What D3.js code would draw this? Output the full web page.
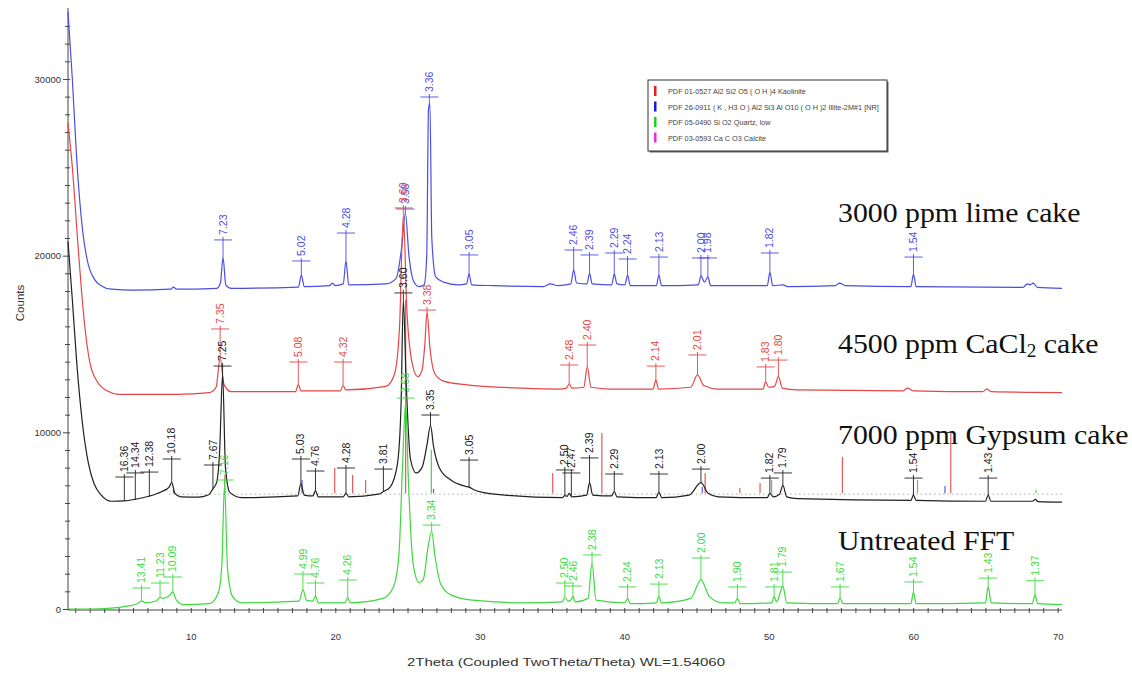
<!DOCTYPE html>
<html><head><meta charset="utf-8">
<script src="https://cdn.jsdelivr.net/npm/d3@7"></script>
<style>body{margin:0;background:#fff}svg{display:block}</style>
</head><body><svg id="chart" width="1132" height="677"></svg>
<script>
// ---------------- DATA ----------------
// 2Theta (deg), Counts
const limeCake = [[1.5,33800],[1.8,30000],[2.1,25500],[2.5,21500],[2.9,19500],[3.3,18700],[3.8,18300],[4.5,18100],[6,18050],[8.6,18100],[8.8,18220],[9.0,18100],[11.8,18150],[12.05,18450],[12.23,19900],[12.42,18350],[12.8,18150],[17.45,18220],[17.65,18900],[17.85,18250],[19.6,18300],[19.8,18450],[20.0,18300],[20.55,18400],[20.74,19700],[20.93,18350],[23.5,18400],[24.2,18700],[24.6,20500],[24.85,22400],[25.1,20000],[25.4,18600],[25.8,18250],[26.15,18350],[26.33,20000],[26.45,28300],[26.55,28600],[26.68,21000],[26.95,18800],[27.5,18500],[28.5,18350],[29.08,18400],[29.26,18950],[29.44,18350],[31,18300],[34.4,18250],[34.9,18400],[35.4,18300],[36.3,18400],[36.5,19200],[36.7,18450],[37.42,18400],[37.6,19000],[37.78,18400],[39.13,18350],[39.31,18950],[39.5,18400],[40.05,18350],[40.23,18900],[40.42,18300],[42.22,18300],[42.4,18900],[42.58,18300],[45.13,18350],[45.31,18850],[45.55,18500],[45.79,18800],[45.98,18300],[49.9,18300],[50.08,19050],[50.28,18300],[51,18350],[51.3,18250],[54.6,18300],[54.9,18450],[55.3,18300],[59.84,18250],[60.02,18950],[60.2,18250],[67.6,18200],[67.9,18400],[68.1,18350],[68.3,18450],[68.6,18200],[70.3,18150]];
const cacl2Cake = [[1.5,27500],[1.8,25000],[2.2,20500],[2.6,16500],[3.0,14000],[3.5,12900],[4.2,12350],[5,12150],[9,12150],[11.3,12250],[11.75,12550],[12.03,14200],[12.3,12700],[12.8,12300],[17.25,12300],[17.44,12700],[17.63,12350],[20.35,12350],[20.54,12650],[20.73,12400],[23.5,12600],[24.1,13300],[24.45,16000],[24.71,22300],[24.95,17000],[25.3,14000],[25.7,13150],[26.0,13500],[26.2,15000],[26.35,16800],[26.55,14800],[26.9,13300],[27.5,12900],[29,12700],[33,12500],[35.5,12450],[36.0,12500],[36.19,12750],[36.38,12500],[37.2,12550],[37.44,13700],[37.7,12550],[39,12450],[42.0,12450],[42.19,12950],[42.38,12450],[44.6,12550],[45.07,13250],[45.5,12650],[46.5,12450],[49.6,12450],[49.79,12850],[50.0,12550],[50.4,12600],[50.67,13150],[50.95,12500],[52,12400],[59.3,12350],[59.6,12500],[60,12350],[64.8,12300],[65.1,12450],[65.4,12300],[70.3,12250]];
const gypsumCake = [[1.5,20800],[1.8,17500],[2.1,14000],[2.5,10500],[2.9,8300],[3.3,7100],[3.8,6450],[4.5,6100],[5.4,6120],[6.2,6220],[7.1,6380],[8.0,6650],[8.5,6900],[8.68,7150],[8.9,6550],[9.3,6350],[10.5,6330],[11.2,6450],[11.53,6800],[11.8,7200],[12.0,9000],[12.2,13300],[12.4,8000],[12.7,6600],[13.5,6300],[17.4,6400],[17.62,7100],[17.85,6450],[18.45,6400],[18.63,6700],[18.82,6350],[20.55,6350],[20.74,6550],[20.93,6350],[23.0,6500],[23.33,6650],[23.8,6900],[24.3,8200],[24.55,11500],[24.71,17500],[24.9,13000],[25.2,8500],[25.6,7700],[26.0,8000],[26.35,9300],[26.59,10400],[26.8,9200],[27.2,8000],[28,7300],[29.0,6950],[29.26,6900],[29.6,6750],[31,6500],[35.7,6300],[35.89,6420],[36.05,6380],[36.19,6550],[36.36,6350],[37.4,6450],[37.6,7150],[37.82,6450],[39.12,6400],[39.31,6650],[39.5,6350],[42.2,6300],[42.4,6600],[42.6,6300],[44.5,6450],[45.31,7150],[45.8,6550],[46.5,6350],[49.9,6300],[50.08,6550],[50.3,6350],[50.75,6500],[50.98,7000],[51.25,6350],[52,6250],[59.84,6150],[60.02,6450],[60.2,6150],[65.0,6100],[65.19,6450],[65.38,6100],[68.25,6100],[68.45,6200],[68.65,6080],[70.3,6050]];
const untreatedFFT = [[1.5,0],[3,0],[4.5,50],[5.5,150],[6.3,300],[6.59,450],[6.9,350],[7.6,450],[7.87,650],[8.1,600],[8.5,750],[8.76,950],[9.0,500],[9.5,250],[11.3,300],[11.9,900],[12.15,2500],[12.33,7000],[12.55,2200],[12.9,700],[13.5,350],[17.5,450],[17.76,1100],[18.0,500],[18.45,450],[18.63,750],[18.82,350],[20.68,350],[20.86,650],[21.05,350],[23.3,600],[24.0,1200],[24.4,3000],[24.65,8000],[24.87,11700],[25.05,7500],[25.4,2500],[25.8,1500],[26.1,1700],[26.4,3400],[26.67,4400],[26.9,3000],[27.3,1400],[28.0,800],[29.5,500],[33,350],[35.7,400],[35.89,650],[36.1,450],[36.3,500],[36.45,700],[36.62,400],[37.5,600],[37.77,2600],[38.05,500],[40.05,350],[40.23,600],[40.42,300],[42.22,350],[42.4,700],[42.58,350],[44.6,600],[45.31,1650],[45.9,700],[46.8,350],[47.65,350],[47.83,600],[48.02,300],[50.2,350],[50.37,700],[50.55,400],[50.98,1300],[51.25,350],[54.76,300],[54.94,650],[55.12,300],[59.84,300],[60.02,950],[60.2,300],[65.0,350],[65.19,1250],[65.4,350],[68.25,300],[68.43,800],[68.62,300],[70.3,250]];

// peak labels: [d-value text, 2Theta, label bar level (Counts)]
const limeLabels = [["7.23",12.23,20890],["5.02",17.65,19700],["4.28",20.74,21280],["3.58",24.85,22640],["3.36",26.51,28980],["3.05",29.26,20040],["2.46",36.50,20320],["2.39",37.60,20040],["2.29",39.31,20150],["2.24",40.23,19810],["2.13",42.40,19920],["2.00",45.31,19870],["1.98",45.79,19870],["1.82",50.08,20150],["1.54",60.02,19920]];
const cacl2Labels = [["7.35",12.03,15850],["5.08",17.44,13980],["4.32",20.54,13980],["3.60",24.71,22700],["3.38",26.35,16920],["2.48",36.19,13810],["2.40",37.44,14940],["2.14",42.19,13750],["2.01",45.07,14380],["1.83",49.79,13700],["1.80",50.67,14090]];
const gypsumLabels = [["16.36",5.40,7470],["14.34",6.16,7700],["12.38",7.13,7750],["10.18",8.68,8490],["7.67",11.53,8150],["7.25",12.20,13750],["5.03",17.62,8490],["4.76",18.63,7810],["4.28",20.74,7980],["3.81",23.33,7920],["3.60",24.71,17890],["3.35",26.59,10980],["3.05",29.26,8430],["2.50",35.89,7870],["2.47",36.34,7700],["2.39",37.60,8550],["2.29",39.31,7640],["2.13",42.40,7640],["2.00",45.31,7920],["1.82",50.08,7410],["1.79",50.98,7700],["1.54",60.02,7410],["1.43",65.19,7410]];
const fftLabels = [["13.41",6.59,1190],["11.23",7.87,1470],["10.09",8.76,1810],["7.16",12.33,7300],["4.99",17.76,1980],["4.76",18.63,1470],["4.26",20.86,1640],["3.58",24.87,11940],["3.34",26.67,4750],["2.50",35.89,1470],["2.46",36.45,1300],["2.38",37.77,3060],["2.24",40.23,1250],["2.13",42.40,1410],["2.00",45.31,2890],["1.90",47.83,1250],["1.81",50.37,1250],["1.79",50.98,2090],["1.67",54.94,1250],["1.54",60.02,1530],["1.43",65.19,1750],["1.37",68.43,1600]];

// reference pattern sticks: [2Theta, top Counts] (base = stickBase)
const stickBase = 6550;
const kaoliniteSticks = [[12.36,7580],[19.96,7980],[21.2,7580],[22.1,7300],[24.87,17490],[35.05,7700],[38.45,9960],[45.6,7700],[48.0,6850],[49.4,7130],[55.1,8600],[62.6,9960]];
const illiteSticks = [[8.8,6740],[17.7,7300],[26.8,6800],[45.4,6900],[62.2,6960]];
const quartzSticks = [[26.65,9000],[50.2,7300],[60.3,7300],[68.5,6740]];
const backgroundLine = [[8.5,6500],[70.3,6500]];

const seriesNames = ["3000 ppm lime cake","4500 ppm CaCl|2| cake","7000 ppm Gypsum cake","Untreated FFT"];
const legendItems = ["PDF 01-0527 Al2 Si2 O5 ( O H )4 Kaolinite","PDF 26-0911 ( K , H3 O ) Al2 Si3 Al O10 ( O H )2 Illite-2M#1 [NR]","PDF 05-0490 Si O2 Quartz, low","PDF 03-0593 Ca C O3 Calcite"];
const xTickLabels = [10,20,30,40,50,60,70];
const yTickLabels = [0,10000,20000,30000];
const xTitle = "2Theta (Coupled TwoTheta/Theta) WL=1.54060";
const yTitle = "Counts";

// ---------------- DRAWING ----------------
const svg = d3.select("#chart");
svg.append("rect").attr("width",1132).attr("height",677).attr("fill","#fff");
const x = d3.scaleLinear().domain([1.5,70.3]).range([68,1062]);
const y = d3.scaleLinear().domain([0,34000]).range([609,8.3]);
const AX = "#444";
const colors = {blue:"#4d4de0", red:"#e64646", black:"#202020", green:"#3ed83e", magenta:"#e030e0", legendRed:"#e02020", legendBlue:"#1a1ad0", legendGreen:"#22d022"};

// axes
const yAxis = d3.axisLeft(y).tickValues(d3.range(0,34000,1000)).tickSize(3).tickFormat(d => yTickLabels.includes(d) ? d : "");
const gy = svg.append("g").attr("transform","translate(68,0)").call(yAxis);
gy.select(".domain").attr("stroke",AX).attr("d","M0,8V610");
gy.selectAll(".tick line").attr("stroke",AX).attr("x1",2).attr("x2",-3);
gy.selectAll(".tick").filter(d=>yTickLabels.includes(d)).select("line").attr("x2",-5);
gy.selectAll(".tick text").attr("fill","#333").attr("font-family","Liberation Sans, Arial").attr("font-size",9.5).attr("x",-7);

const xAxis = d3.axisBottom(x).tickValues(d3.range(2,71,1)).tickSize(3).tickFormat(d => xTickLabels.includes(d) ? d : "");
const gx = svg.append("g").attr("transform","translate(0,610)").call(xAxis);
gx.select(".domain").attr("stroke",AX).attr("d","M68,0H1062");
gx.selectAll(".tick line").attr("stroke",AX).attr("y1",-2).attr("y2",3);
gx.selectAll(".tick text").attr("fill","#333").attr("font-family","Liberation Sans, Arial").attr("font-size",9.5).attr("y",23);

svg.append("text").attr("x",566).attr("y",666).attr("text-anchor","middle").attr("font-family","Liberation Sans, Arial").attr("font-size",11.5).attr("fill","#333").attr("textLength",318).attr("lengthAdjust","spacingAndGlyphs").text(xTitle);
svg.append("text").attr("transform","translate(24,303) rotate(-90)").attr("text-anchor","middle").attr("font-family","Liberation Sans, Arial").attr("font-size",11.5).attr("fill","#333").text(yTitle);

// background (dotted) and reference sticks
const line = d3.line().x(d=>x(d[0])).y(d=>y(d[1]));
svg.append("path").attr("d",line(backgroundLine)).attr("stroke","#aaa").attr("stroke-width",1).attr("stroke-dasharray","1.5,3").attr("fill","none");
function sticks(arr,color){
  svg.append("g").selectAll("line").data(arr).join("line")
    .attr("x1",d=>x(d[0])).attr("x2",d=>x(d[0])).attr("y1",y(stickBase)).attr("y2",d=>y(d[1]))
    .attr("stroke",color).attr("stroke-width",1.2).attr("opacity",0.85);
}
sticks(kaoliniteSticks,"#e04040");
sticks(illiteSticks,"#4040e0");
sticks(quartzSticks,"#40c040");

// traces
const curve = d3.line().x(d=>x(d[0])).y(d=>y(d[1])).curve(d3.curveMonotoneX);
function valAt(arr,t){
  const i = d3.bisector(d=>d[0]).left(arr,t);
  if(i<=0) return arr[0][1];
  if(i>=arr.length) return arr[arr.length-1][1];
  const a=arr[i-1], b=arr[i];
  return a[1]+(b[1]-a[1])*(t-a[0])/(b[0]-a[0]);
}
function trace(arr,labels,color){
  svg.append("path").attr("d",curve(arr)).attr("fill","none").attr("stroke",color).attr("stroke-width",1.2).attr("stroke-linejoin","round");
  const g = svg.append("g");
  labels.forEach(([txt,t,bar])=>{
    const px = x(t), pb = y(bar), pv = y(valAt(arr,t));
    g.append("line").attr("x1",px).attr("x2",px).attr("y1",Math.max(pv,pb)).attr("y2",pb-3).attr("stroke",color).attr("stroke-width",0.9);
    g.append("line").attr("x1",px-9).attr("x2",px+9).attr("y1",pb).attr("y2",pb).attr("stroke",color).attr("stroke-width",0.9);
    g.append("text").attr("transform",`translate(${px+3.6},${pb-5}) rotate(-90)`).attr("font-family","Liberation Sans, Arial").attr("font-size",10.5).attr("fill",color).text(txt);
  });
}
trace(limeCake,limeLabels,colors.blue);
trace(cacl2Cake,cacl2Labels,colors.red);
trace(gypsumCake,gypsumLabels,colors.black);
trace(untreatedFFT,fftLabels,colors.green);

// series names
const nameY = [222,353,444,550];
seriesNames.forEach((n,i)=>{
  const t = svg.append("text").attr("transform",`translate(838,${nameY[i]}) scale(1.065,1)`).attr("font-family","Liberation Serif, Times New Roman, serif").attr("font-size",28).attr("fill","#111");
  n.split("|").forEach((part,j)=>{
    const ts = t.append("tspan").text(part);
    if(j===1) ts.attr("font-size",18).attr("dy",4);
    if(j===2) ts.attr("dy",-4);
  });
});

// legend
const lg = svg.append("g");
lg.append("rect").attr("x",649.5).attr("y",81.5).attr("width",239).attr("height",71).attr("fill","#666");
lg.append("rect").attr("x",648).attr("y",80).attr("width",239).attr("height",71).attr("fill","#fff").attr("stroke","#333").attr("stroke-width",1);
const lgColors = [colors.legendRed,colors.legendBlue,colors.legendGreen,colors.magenta];
legendItems.forEach((s,i)=>{
  const cy = 91 + i*15.5;
  lg.append("rect").attr("x",654).attr("y",cy-5).attr("width",2.5).attr("height",10).attr("fill",lgColors[i]);
  lg.append("text").attr("x",668).attr("y",cy+3).attr("font-family","Liberation Sans, Arial").attr("font-size",7.3).attr("fill","#444").text(s);
});
</script></body></html>
